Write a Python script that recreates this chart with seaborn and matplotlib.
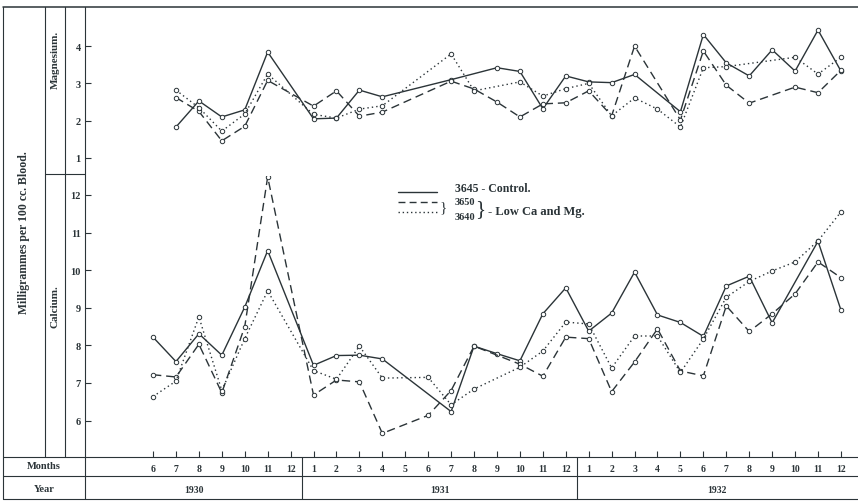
import numpy as np
import pandas as pd
import matplotlib
matplotlib.use("Agg")
import matplotlib.pyplot as plt
import matplotlib.transforms as mtransforms
from matplotlib.lines import Line2D
import seaborn as sns

nan = np.nan

# ---------------- data ----------------
MONTHS = [6, 7, 8, 9, 10, 11, 12,
          1, 2, 3, 4, 5, 6, 7, 8, 9, 10, 11, 12,
          1, 2, 3, 4, 5, 6, 7, 8, 9, 10, 11, 12]
YEARS = ["1930", "1931", "1932"]
SERIES = ["3645", "3650", "3640"]

# Calcium, mg per 100 cc blood (one value per month above, nan = not measured)
CA_3645 = [8.22, 7.57, 8.31, 7.74, 9.02, 10.52, nan,
           7.47, 7.73, 7.74, 7.64, nan, nan, 6.24, 7.98, 7.78, 7.59, 8.84, 9.53,
           8.38, 8.86, 9.95, 8.81, 8.61, 8.24, 9.58, 9.84, 8.60, nan, 10.77, 8.94]
CA_3650 = [7.22, 7.16, 8.03, 6.74, 8.50, 12.48, nan,
           6.68, 7.08, 7.03, 5.66, nan, 6.14, 6.80, 7.98, nan, 7.50, 7.18, 8.22,
           8.18, 6.77, 7.56, 8.44, 7.32, 7.19, 9.05, 8.37, 8.84, 9.37, 10.22, 9.80]
CA_3640 = [6.64, 7.05, 8.76, 6.80, 8.18, 9.45, nan,
           7.33, 7.10, 7.98, 7.13, nan, 7.15, 6.42, 6.84, nan, 7.42, 7.85, 8.62,
           8.57, 7.40, 8.25, 8.25, 7.28, 8.17, 9.28, 9.70, 9.98, 10.22, 10.78, 11.55]

# Magnesium, mg per 100 cc blood
MG_3645 = [nan, 1.83, 2.53, 2.10, 2.29, 3.84, nan,
           2.05, 2.07, 2.82, 2.64, nan, nan, 3.10, nan, 3.42, 3.32, 2.32, 3.20,
           3.04, 3.02, 3.24, nan, 2.24, 4.31, 3.55, 3.20, 3.90, 3.33, 4.43, 3.33]
MG_3650 = [nan, 2.62, 2.25, 1.46, 1.85, 3.08, nan,
           2.39, 2.80, 2.12, 2.23, nan, nan, 3.06, 2.85, 2.50, 2.10, 2.45, 2.48,
           2.80, 2.13, 4.00, nan, 2.02, 3.87, 2.95, 2.47, nan, 2.90, 2.75, 3.35]
MG_3640 = [nan, 2.82, 2.35, 1.72, 2.18, 3.25, nan,
           2.17, 2.07, 2.31, 2.40, nan, nan, 3.79, 2.80, nan, 3.04, 2.66, 2.86,
           3.00, 2.13, 2.61, 2.31, 1.83, 3.42, 3.45, nan, nan, 3.70, 3.25, 3.70]

CA_TICKS = [6, 7, 8, 9, 10, 11, 12]
MG_TICKS = [1, 2, 3, 4]

# ---------------- long tables ----------------
def long_table(series_values):
    rows = []
    for name, vals in zip(SERIES, series_values):
        for i, v in enumerate(vals):
            if not np.isnan(v):
                rows.append({"idx": i, "value": v, "series": name})
    return pd.DataFrame(rows)

df_ca = long_table([CA_3645, CA_3650, CA_3640])
df_mg = long_table([MG_3645, MG_3650, MG_3640])

# ---------------- style ----------------
sns.set_style("white")
plt.rcParams["font.family"] = ["Liberation Serif", "DejaVu Serif"]
plt.rcParams["font.weight"] = "bold"

INK = "#2b3438"
W, H = 858, 502
fig = plt.figure(figsize=(W / 100, H / 100), dpi=100)
fig.patch.set_facecolor("white")

def fx(px):
    return px / W

def fy(py):
    return 1 - py / H

L, R = 85, 857
ax_ca = fig.add_axes([fx(L), fy(458), fx(R) - fx(L), fy(177) - fy(458)])
ax_mg = fig.add_axes([fx(L), fy(177), fx(R) - fx(L), fy(8) - fy(177)])

dash_map = {"3645": "", "3650": (6, 3.5), "3640": (1, 2.2)}
marker_map = {"3645": "o", "3650": "o", "3640": "o"}

for ax, df in ((ax_ca, df_ca), (ax_mg, df_mg)):
    sns.lineplot(data=df, x="idx", y="value", style="series", style_order=SERIES,
                 dashes=dash_map, markers=marker_map, color=INK,
                 estimator=None, sort=True, legend=False, ax=ax,
                 linewidth=1.0, markersize=3.2, markerfacecolor="white",
                 markeredgecolor=INK, markeredgewidth=0.7)
    ax.set_facecolor("none")
    for s in ax.spines.values():
        s.set_visible(False)
    ax.set_xlabel("")
    ax.set_ylabel("")
    ax.set_xlim(-2.966, 30.70)

ax_ca.set_ylim(5.032, 12.505)
ax_mg.set_ylim(0.517, 5.048)

ax_ca.set_yticks(CA_TICKS)
ax_ca.set_yticklabels([str(t) for t in CA_TICKS])
ax_mg.set_yticks(MG_TICKS)
ax_mg.set_yticklabels([str(t) for t in MG_TICKS])
for ax in (ax_ca, ax_mg):
    ax.tick_params(axis="y", direction="in", length=4.5, width=0.8, pad=3,
                   labelsize=7.5, colors=INK, left=True)

ax_ca.set_xticks(range(len(MONTHS)))
ax_ca.set_xticklabels([str(m) for m in MONTHS])
ax_ca.tick_params(axis="x", direction="in", length=4.5, width=0.8, pad=5,
                  labelsize=7, colors=INK, bottom=True)
ax_mg.set_xticks([])

# year separators and year labels (data x, axes y)
blend = mtransforms.blended_transform_factory(ax_ca.transData, ax_ca.transAxes)
row_bottom = (458 - 500) / (458 - 177)
bounds = [ax_ca.get_xlim()[0], 6.5, 18.5, ax_ca.get_xlim()[1]]
for b in bounds[1:3]:
    ax_ca.add_line(Line2D([b, b], [0, row_bottom], transform=blend, color=INK,
                          lw=0.8, clip_on=False))
for k, yr in enumerate(YEARS):
    mid = (bounds[k] + bounds[k + 1]) / 2
    ax_ca.text(mid, (458 - 491) / (458 - 177), yr, transform=blend, ha="center",
               va="center", fontsize=7, color=INK)

# ---------------- frame / table lines (pixels) ----------------
def hline(y, x0, x1, lw=0.8):
    fig.add_artist(Line2D([fx(x0), fx(x1)], [fy(y), fy(y)], color=INK, lw=lw,
                          transform=fig.transFigure))

def vline(x, y0, y1, lw=0.8):
    fig.add_artist(Line2D([fx(x), fx(x)], [fy(y0), fy(y1)], color=INK, lw=lw,
                          transform=fig.transFigure))

hline(8, 3, 858, 1.1)
hline(458, 3, 858)
hline(477, 3, 858)
hline(500, 3, 858)
hline(175, 45, 85)
vline(3, 8, 500)
vline(45, 8, 458)
vline(65, 8, 458)
vline(85, 8, 500)

fig.text(fx(24), fy(233), "Milligrammes per 100 cc. Blood.", rotation=90,
         ha="center", va="center", fontsize=8.5, color=INK)
fig.text(fx(55), fy(60), "Magnesium.", rotation=90, ha="center", va="center",
         fontsize=8, color=INK)
fig.text(fx(55), fy(307), "Calcium.", rotation=90, ha="center", va="center",
         fontsize=8, color=INK)
fig.text(fx(44), fy(467), "Months", ha="center", va="center", fontsize=7.5, color=INK)
fig.text(fx(44), fy(490), "Year", ha="center", va="center", fontsize=7.5, color=INK)

# ---------------- legend key ----------------
def key_line(y, style):
    ln = Line2D([fx(398), fx(437)], [fy(y), fy(y)], color=INK, lw=1.0,
                transform=fig.transFigure)
    if style:
        ln.set_dashes(style)
    fig.add_artist(ln)

key_line(193, None)
key_line(203, (5, 3))
key_line(213, (1, 2))
fig.text(fx(440), fy(208), "}", ha="left", va="center", fontsize=11,
         fontweight="normal", color=INK)
fig.text(fx(455), fy(189), "3645 - Control.", ha="left", va="center",
         fontsize=8.5, color=INK)
fig.text(fx(455), fy(203), "3650", ha="left", va="center", fontsize=7.5, color=INK)
fig.text(fx(455), fy(218), "3640", ha="left", va="center", fontsize=7.5, color=INK)
fig.text(fx(475), fy(210), "}", ha="left", va="center", fontsize=15,
         fontweight="normal", color=INK)
fig.text(fx(488), fy(212), "- Low Ca and Mg.", ha="left", va="center",
         fontsize=9, color=INK)

fig.savefig("out.png", dpi=100, facecolor="white")
